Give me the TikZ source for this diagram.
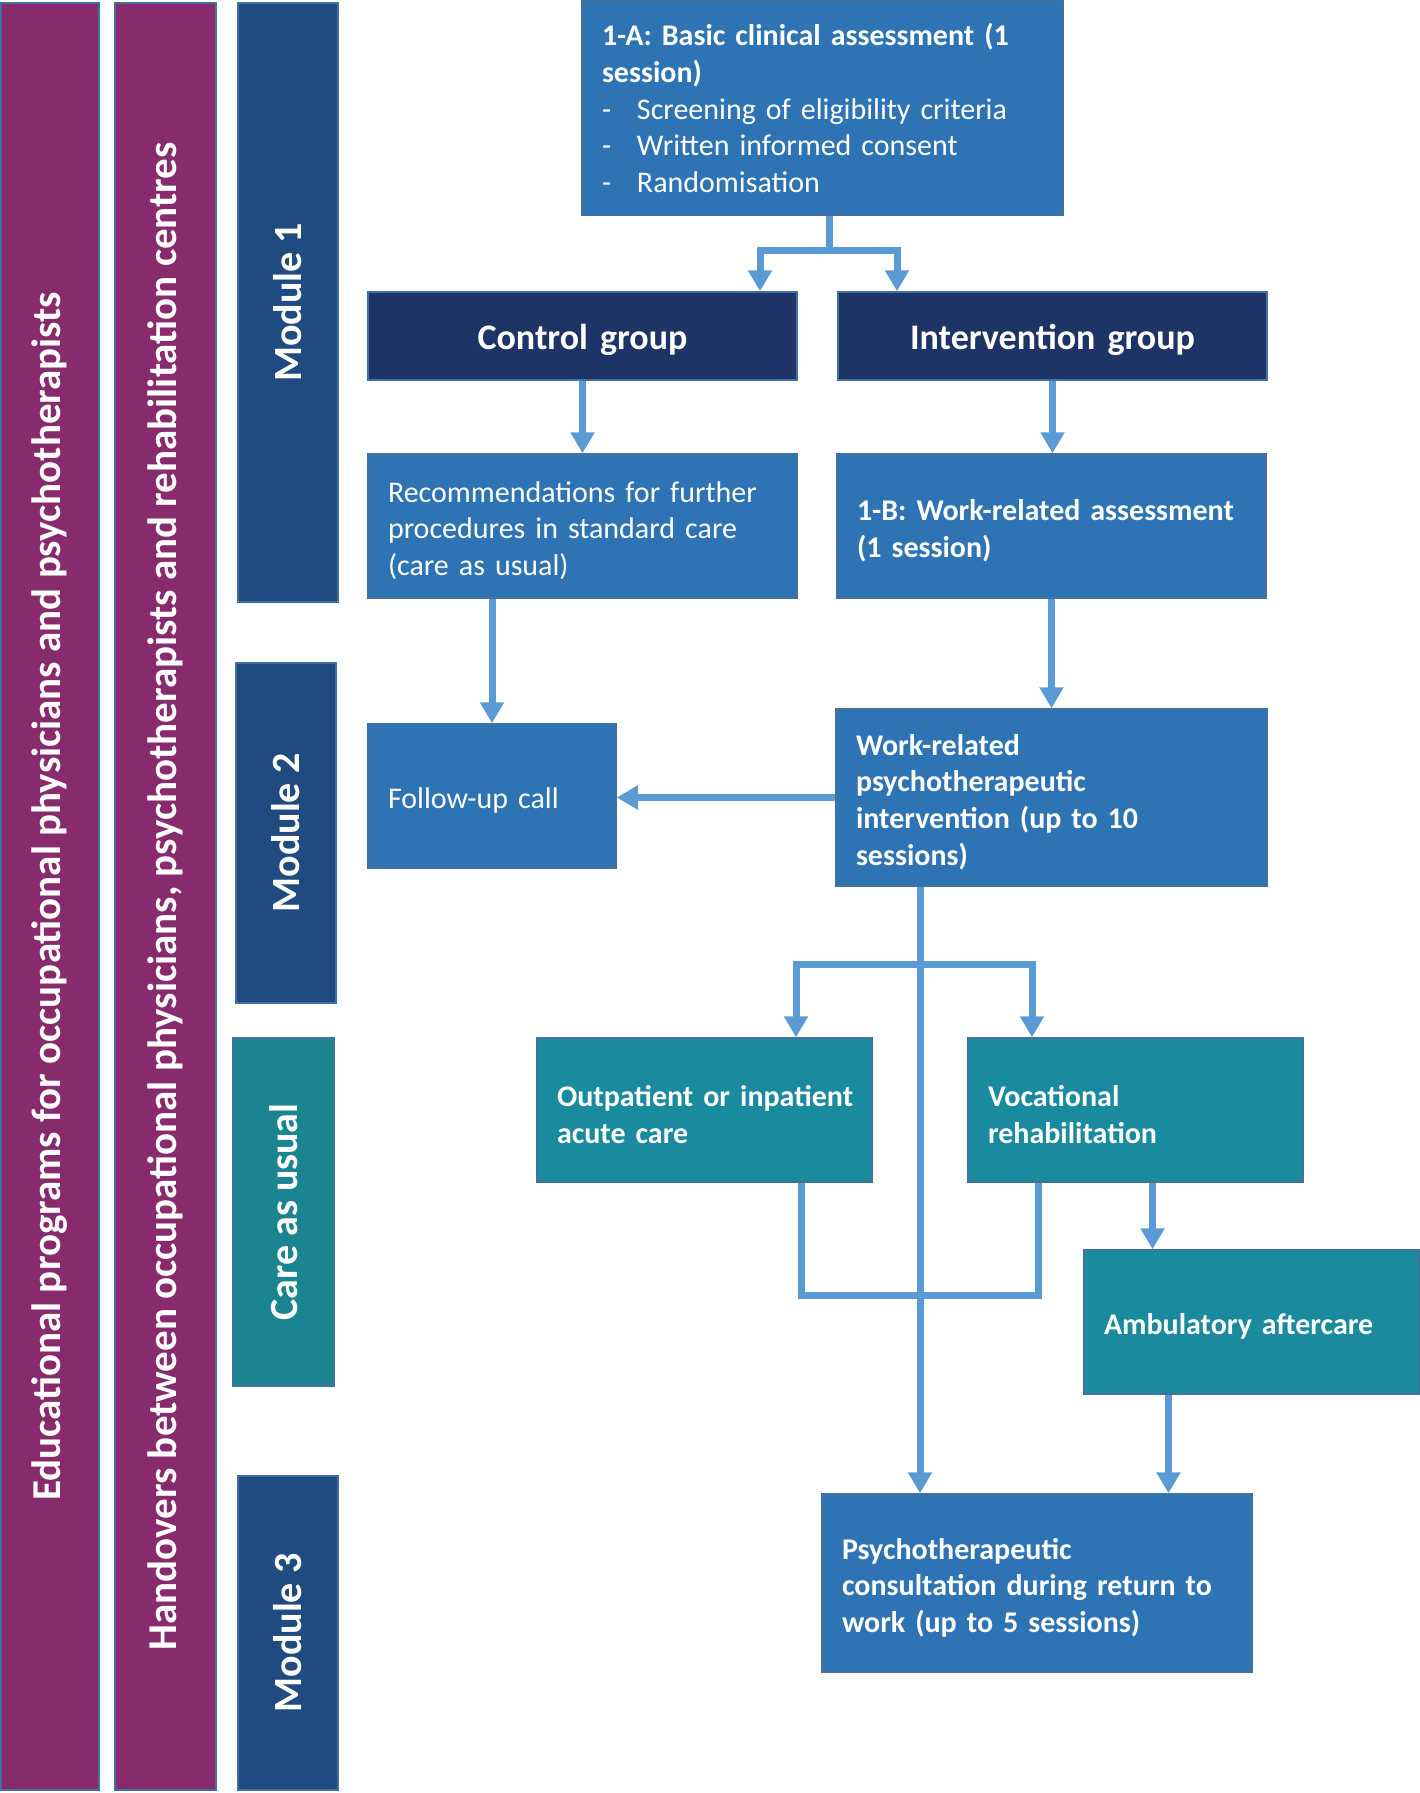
\documentclass[tikz,border=0pt]{standalone}
\usepackage{fontspec}
\setmainfont{Carlito}
\usetikzlibrary{arrows.meta}
\definecolor{boxblue}{HTML}{2E74B5}
\definecolor{navy}{HTML}{1E3466}
\definecolor{tealbox}{HTML}{1A8A9E}
\definecolor{purp}{HTML}{882B6D}
\definecolor{modblue}{HTML}{1F4B80}
\definecolor{careteal}{HTML}{1A8591}
\definecolor{arrc}{HTML}{5B9BD5}
\definecolor{bordc}{HTML}{41719C}
\begin{document}
\begin{tikzpicture}[x=1pt,y=-1pt,
  boxbase/.style={rectangle, draw=bordc, line width=1.5pt, fill=boxblue, text=white,
    inner xsep=20pt, inner ysep=0pt, align=left,
    font=\fontsize{30}{36.6}\selectfont\bfseries},
  box/.style={boxbase, execute at begin node={\rule{0pt}{30pt}}},
  grp/.style={rectangle, draw=bordc, line width=1.5pt, fill=navy, text=white,
    inner sep=0pt, align=center, minimum width=429pt, minimum height=88pt,
    text width=429pt, execute at begin node={\rule{0pt}{34pt}},
    font=\fontsize{36}{44}\selectfont\bfseries},
  bar/.style={rectangle, draw=bordc, line width=1.5pt, text=white, rotate=90,
    inner sep=0pt, align=center, font=\fontsize{41}{48}\selectfont\bfseries},
  modbar/.style={bar, font=\fontsize{40}{48}\selectfont\bfseries},
  conn/.style={draw=arrc, line width=7pt},
  arr/.style={conn, -{Triangle[width=23pt,length=21pt]}}
]
\useasboundingbox (0,0) rectangle (1420,1793);
% side bars
\node[bar, fill=purp, minimum width=1787pt, minimum height=98pt] (edu) at (50,896.5)
  {Educational programs for occupational physicians and psychotherapists};
\node[bar, fill=purp, minimum width=1787pt, minimum height=101pt] (hand) at (165.5,896.5)
  {Handovers between occupational physicians, psychotherapists and rehabilitation centres};
\node[modbar, fill=modblue, minimum width=599pt, minimum height=100pt] (m1) at (288,302.5) {Module 1};
\node[modbar, fill=modblue, minimum width=340pt, minimum height=100pt] (m2) at (286,833) {Module 2};
\node[modbar, fill=careteal, minimum width=348pt, minimum height=101pt] (cau) at (283.5,1212) {Care as usual};
\node[modbar, fill=modblue, minimum width=314pt, minimum height=100pt] (m3) at (288,1633) {Module 3};
% boxes
\node[boxbase, minimum width=481pt, minimum height=214pt, text width=441pt] (A1) at (822.5,108)
  {1-A: Basic clinical assessment (1\\session)\\
   \mdseries\makebox[35pt][l]{-}Screening of eligibility criteria\\
   \mdseries\makebox[35pt][l]{-}Written informed consent\\
   \mdseries\makebox[35pt][l]{-}Randomisation};
\node[grp] (ctrl) at (582.5,336) {Control group};
\node[grp] (intv) at (1052.5,336) {Intervention group};
\node[box, minimum width=429pt, minimum height=144pt, text width=389pt, font=\fontsize{30}{36.6}\selectfont] (rec) at (582.5,526)
  {Recommendations for further\\procedures in standard care\\(care as usual)};
\node[box, minimum width=429pt, minimum height=144pt, text width=389pt] (b1) at (1051.5,526)
  {1-B: Work-related assessment\\(1 session)};
\node[box, minimum width=248pt, minimum height=144pt, text width=208pt, font=\fontsize{30}{36.6}\selectfont] (fol) at (492,796)
  {Follow-up call};
\node[box, minimum width=431pt, minimum height=177pt, text width=391pt] (wrpi) at (1051.5,797.5)
  {Work-related\\psychotherapeutic\\intervention (up to 10\\sessions)};
\node[box, fill=tealbox, minimum width=335pt, minimum height=144pt, text width=295pt] (outp) at (704.5,1110)
  {\mbox{Outpatient or inpatient}\\acute care};
\node[box, fill=tealbox, minimum width=335pt, minimum height=144pt, text width=295pt] (voc) at (1135.5,1110)
  {Vocational\\rehabilitation};
\node[box, fill=tealbox, minimum width=335pt, minimum height=144pt, text width=295pt] (amb) at (1251.5,1322)
  {Ambulatory aftercare};
\node[box, minimum width=430pt, minimum height=178pt, text width=390pt] (psy) at (1037,1583)
  {Psychotherapeutic\\consultation during return to\\work (up to 5 sessions)};
% helper coordinates
\coordinate (s1) at (829,250);
\coordinate (cl) at (760,250);
\coordinate (cr) at (897,250);
\coordinate (tr) at (920,964);
\coordinate (bl) at (796,964);
\coordinate (br) at (1032,964);
\coordinate (ml) at (801,1295);
\coordinate (mr) at (1038,1295);
\coordinate (va) at (1152.5,0);
\coordinate (ap) at (1168.5,0);
% connectors
\draw[conn] (A1.south -| s1) -- (s1);
\draw[arr] (s1) -- (cl) -- (ctrl.north -| cl);
\draw[arr] (s1) -- (cr) -- (intv.north -| cr);
\draw[arr] (ctrl.south) -- (rec.north -| ctrl.south);
\draw[arr] (intv.south) -- (b1.north -| intv.south);
\draw[arr] (rec.south -| fol.north) -- (fol.north);
\draw[arr] (b1.south) -- (wrpi.north);
\draw[arr] (wrpi.west) -- (fol.east |- wrpi.west);
\draw[arr] (wrpi.south -| tr) -- (psy.north -| tr);
\draw[arr] (tr) -- (bl) -- (outp.north -| bl);
\draw[arr] (tr) -- (br) -- (voc.north -| br);
\draw[conn] (outp.south -| ml) -- (ml) -- (mr) -- (voc.south -| mr);
\draw[arr] (voc.south -| va) -- (amb.north -| va);
\draw[arr] (amb.south -| ap) -- (psy.north -| ap);
\end{tikzpicture}
\end{document}
